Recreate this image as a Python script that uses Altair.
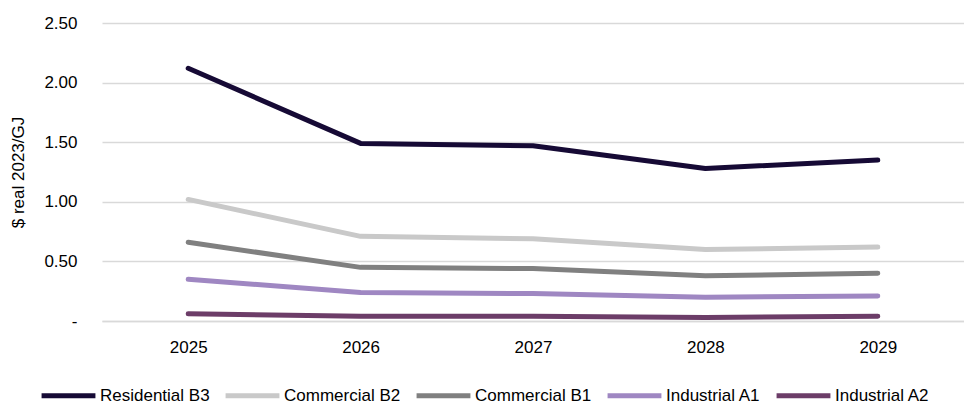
import altair as alt
import pandas as pd

years = ["2025", "2026", "2027", "2028", "2029"]
series_names = ["Residential B3", "Commercial B2", "Commercial B1", "Industrial A1", "Industrial A2"]
residential_b3 = [2.12, 1.49, 1.47, 1.28, 1.35]
commercial_b2 = [1.02, 0.71, 0.69, 0.60, 0.62]
commercial_b1 = [0.66, 0.45, 0.44, 0.38, 0.40]
industrial_a1 = [0.35, 0.24, 0.23, 0.20, 0.21]
industrial_a2 = [0.06, 0.04, 0.04, 0.03, 0.04]
colors = ["#160a35", "#c9c9c9", "#808080", "#9f87c2", "#6c3d68"]

values = [residential_b3, commercial_b2, commercial_b1, industrial_a1, industrial_a2]
rows = []
for name, vals in zip(series_names, values):
    for y, v in zip(years, vals):
        rows.append({"Year": y, "Series": name, "Value": v})
df = pd.DataFrame(rows)

FONT = "Liberation Sans, Arial, sans-serif"
FS = 17

chart = alt.Chart(df).mark_line(strokeWidth=5, strokeCap="round", strokeJoin="round").encode(
    x=alt.X("Year:N", sort=years,
            scale=alt.Scale(type="point", padding=0.5),
            axis=alt.Axis(title=None, labelAngle=0, ticks=False, domain=True,
                          domainColor="#d9d9d9", domainWidth=1.5,
                          labelPadding=18, labelFontSize=FS, labelFont=FONT,
                          labelColor="#000000", grid=False)),
    y=alt.Y("Value:Q",
            scale=alt.Scale(domain=[0, 2.5], nice=False),
            axis=alt.Axis(title="$ real 2023/GJ", values=[0, 0.5, 1.0, 1.5, 2.0, 2.5],
                          labelExpr="datum.value == 0 ? '-\u00a0\u00a0' : format(datum.value, '.2f')",
                          ticks=False, domain=False, labelPadding=25,
                          labelFontSize=FS, labelFont=FONT, labelColor="#000000",
                          titleFont=FONT, titleFontSize=FS, titleFontWeight="normal",
                          titleColor="#000000", titlePadding=16,
                          grid=True, gridColor="#d9d9d9", gridWidth=1.5)),
    color=alt.Color("Series:N",
                    scale=alt.Scale(domain=series_names, range=colors),
                    sort=series_names,
                    legend=alt.Legend(title=None, orient="none", direction="horizontal",
                                      legendX=-63, legendY=343,
                                      symbolType="stroke", symbolSize=2900,
                                      symbolStrokeWidth=5, labelOffset=2,
                                      columnPadding=5, padding=0,
                                      labelFont=FONT, labelFontSize=FS,
                                      labelColor="#000000", labelLimit=300)),
).properties(
    width=862, height=298,
    autosize=alt.AutoSizeParams(type="none"),
    padding={"left": 102, "top": 23, "right": 0, "bottom": 81},
).configure_view(stroke=None)

chart.save("out.html", embed_options={"renderer": "svg", "actions": False})
